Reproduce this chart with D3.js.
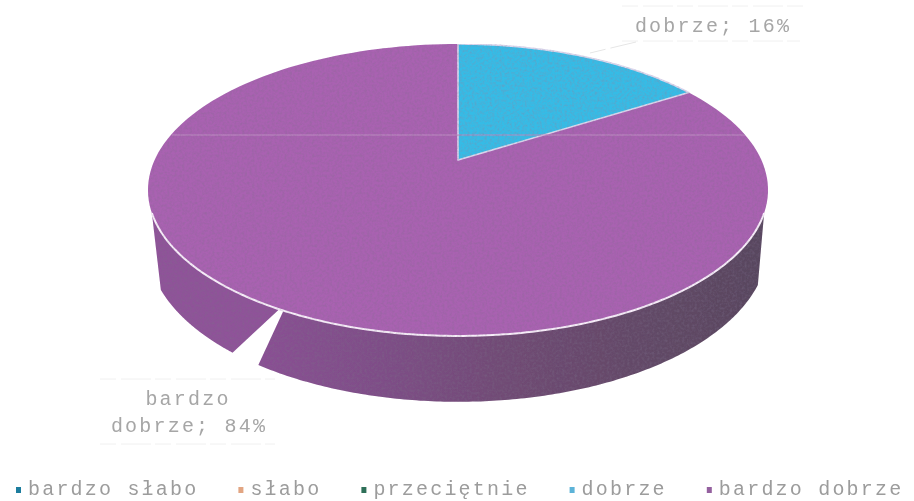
<!DOCTYPE html>
<html><head><meta charset="utf-8">
<script src="https://cdn.jsdelivr.net/npm/d3@7"></script>
<style>html,body{margin:0;padding:0;background:#fff}svg{display:block}</style></head>
<body><svg id="c" width="914" height="501"></svg>
<script>
const categories = ["bardzo słabo","słabo","przeciętnie","dobrze","bardzo dobrze"];
const values = [0,0,0,16,84];
const swatchColors = ["#1f7d9e","#e2a582","#2f6f58","#5db3d8","#94609f"];
const sliceColors = ["#1f7d9e","#e2a582","#2f6f58","#34bce6","#a962b1"];

const deg = d3.scaleLinear().domain([0,360]).range([0,Math.PI*2]);
const svg = d3.select("#c");
const defs = svg.append("defs");

const soft = defs.append("filter").attr("id","soft").attr("x","-5%").attr("y","-20%").attr("width","110%").attr("height","140%");
soft.append("feGaussianBlur").attr("stdDeviation",0.65);

const grain = defs.append("filter").attr("id","grain").attr("x",0).attr("y",0).attr("width","100%").attr("height","100%");
grain.append("feTurbulence").attr("type","fractalNoise").attr("baseFrequency",0.4).attr("numOctaves",2).attr("seed",4).attr("result","n");
grain.append("feColorMatrix").attr("in","n").attr("type","matrix")
  .attr("values","0 0 0 0 0.2  0 0 0 0 0.15  0 0 0 0 0.25  0.7 0 0 0 -0.27").attr("result","a");
grain.append("feComposite").attr("in","a").attr("in2","SourceAlpha").attr("operator","in").attr("result","b");
const gm = grain.append("feMerge").attr("result","m");
gm.append("feMergeNode").attr("in","SourceGraphic");
gm.append("feMergeNode").attr("in","b");
grain.append("feGaussianBlur").attr("in","m").attr("stdDeviation",0.7);

const g = defs.append("linearGradient").attr("id","wall").attr("x1",0).attr("x2",1).attr("y1",0).attr("y2",0);
[[0,"#8a5094"],[0.25,"#7e4e87"],[0.5,"#704b74"],[0.75,"#634967"],[1,"#58465e"]]
  .forEach(s=>g.append("stop").attr("offset",s[0]).attr("stop-color",s[1]));

// perspective projections of the pie's top and bottom discs
const P = {cx:458, y0:160, R:303.4, h:139.8, k:0.2055};
const B = {cx:458, y0:213, R:303.4, h:150, k:0.2055};
const proj = (p,a,r=1)=>{const u=r*Math.sin(a),v=-r*Math.cos(a),w=1-p.k*v;return [p.cx+p.R*u/w,p.y0+p.h*v/w];};
const arcPts = (p,a0,a1,n=160)=>d3.range(n+1).map(i=>proj(p,a0+(a1-a0)*i/n));
const line = d3.line();

const pie = d3.pie().sort(null).value(d=>d.v)(categories.map((c,i)=>({c,v:values[i],i})));
const root = svg.append("g").attr("filter","url(#grain)");

// side wall, split by the white notch
const wall = root.append("g");
wall.append("path")
  .attr("d",line(arcPts(P,deg(110.6),deg(208.1)).concat(arcPts(B,deg(213),deg(115.9))))+"Z")
  .attr("fill","url(#wall)");
wall.append("path")
  .attr("d",line(arcPts(P,deg(208.9),deg(249.4)).concat(arcPts(B,deg(242.4),deg(218.6))))+"Z")
  .attr("fill","#8f5299");

// top face
const apex = proj(P,0,0);
const shown = pie.filter(d=>d.value>0).sort((a,b)=>b.value-a.value);
shown.forEach(d=>{
  const small = d.value<50;
  root.append("path").attr("d",line([apex,...arcPts(P,d.startAngle,d.endAngle)])+"Z")
    .attr("fill",sliceColors[d.data.i])
    .attr("stroke",small?"#dcd8ee":"none").attr("stroke-width",1.6).attr("stroke-linejoin","round");
});
// pale rim highlight on the front edge
root.append("path").attr("d",line(arcPts(P,deg(110.6),deg(249.4)))).attr("fill","none").attr("stroke","#f8eefa").attr("stroke-width",2);
// faint scan seam across the top face
root.append("line").attr("x1",172).attr("x2",745).attr("y1",135).attr("y2",135).attr("stroke","#bd8cc2").attr("stroke-width",1);

// faint label frames and leader
const faint = svg.append("g").attr("stroke","#f0f0f0").attr("fill","none").attr("stroke-dasharray","16 5 30 4").attr("filter","url(#soft)");
[[622,805,6],[622,800,41],[100,275,379],[100,275,444]].forEach(r=>
  faint.append("line").attr("x1",r[0]).attr("x2",r[1]).attr("y1",r[2]).attr("y2",r[2]));
faint.append("line").attr("x1",590).attr("x2",636).attr("y1",53).attr("y2",42).attr("stroke","#e6e6e6");

// data labels
const mono = "'Liberation Mono','DejaVu Sans Mono',monospace";
const txt = svg.append("g").attr("filter","url(#soft)").attr("font-family",mono).attr("font-size",20).attr("letter-spacing",2.2).attr("fill","#a6a6a6");
const lab = (s,x,y)=>txt.append("text").attr("x",x).attr("y",y).attr("text-anchor","middle").text(s);
lab(`${categories[3]}; ${values[3]}%`,713,32);
lab("bardzo",188,405);
lab(`dobrze; ${values[4]}%`,189,432);

// legend
const pitch = 14.2, swatchGap = 12, itemGap = 40, legendStart = 16;
const widths = categories.map(c=>swatchGap+c.length*pitch+itemGap);
const starts = [legendStart,...d3.cumsum(widths).map(w=>legendStart+w)];
const leg = svg.append("g").attr("filter","url(#soft)");
categories.forEach((c,i)=>{
  leg.append("rect").attr("x",starts[i]).attr("y",487).attr("width",5).attr("height",6).attr("fill",swatchColors[i]);
  leg.append("text").attr("x",starts[i]+swatchGap).attr("y",494.5).attr("font-family",mono).attr("font-size",20)
    .attr("letter-spacing",2.2).attr("fill","#9c9c9c").text(c);
});
</script></body></html>
